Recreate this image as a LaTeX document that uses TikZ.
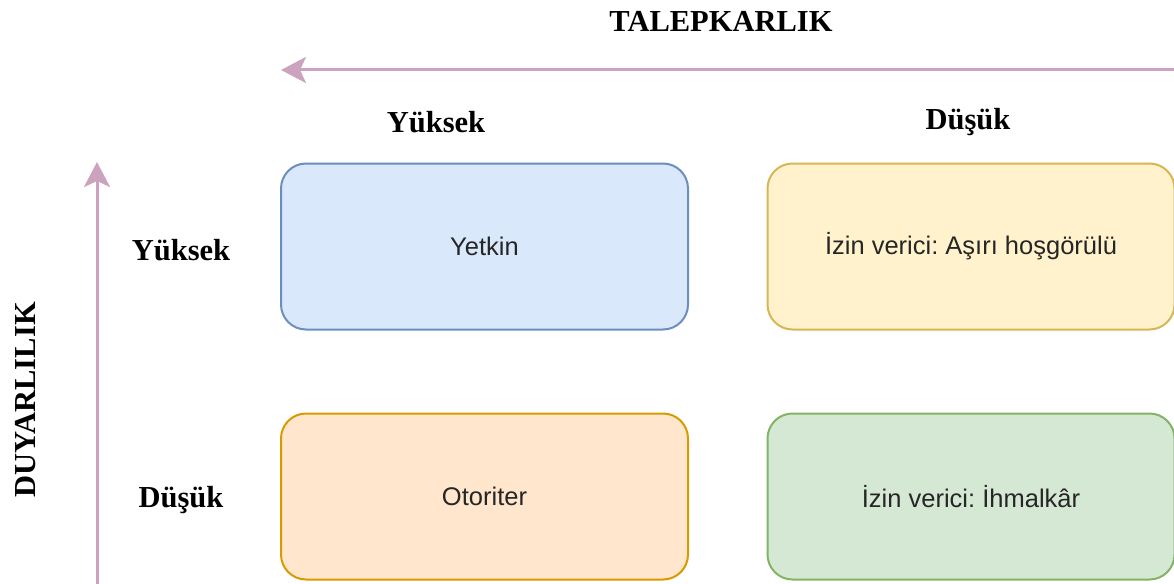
\documentclass[tikz,border=0pt]{standalone}
\usepackage{fontspec}
\setmainfont{Liberation Serif}
\setsansfont{Liberation Sans}
\usetikzlibrary{arrows.meta}
\frenchspacing
\definecolor{axiscol}{HTML}{CDA2BE}
\definecolor{bluefill}{HTML}{DAE8FC}\definecolor{bluedraw}{HTML}{6C8EBF}
\definecolor{yelfill}{HTML}{FFF2CC}\definecolor{yeldraw}{HTML}{D6B656}
\definecolor{orafill}{HTML}{FFE6CC}\definecolor{oradraw}{HTML}{D79B00}
\definecolor{grefill}{HTML}{D5E8D4}\definecolor{gredraw}{HTML}{82B366}
\tikzset{
  cell/.style={draw, line width=2pt, rounded corners=25pt, minimum width=407pt,
    minimum height=166pt, inner sep=0pt, font=\sffamily\fontsize{25.5}{29}\selectfont,
    text=black!85},
  axislabel/.style={font=\bfseries\fontsize{30.5}{34}\selectfont, inner sep=0pt},
  axisarrow/.style={draw=axiscol, line width=3pt,
    -{Stealth[length=25pt,width=26pt,inset=6pt]}},
}
\begin{document}
\begin{tikzpicture}[x=1pt,y=-1pt]
\useasboundingbox (0,0) rectangle (1174,583);
% axes
\coordinate (hstart) at (1176,70);
\coordinate (hend) at (281,70);
\coordinate (vstart) at (97,585);
\coordinate (vend) at (97,162);
\draw[axisarrow] (hstart) -- (hend);
\draw[axisarrow] (vstart) -- (vend);
% axis titles and levels
\node[axislabel] (talep) at (721,21) {TALEPKARLIK};
\node[axislabel, rotate=90] (duyar) at (26,400) {DUYARLILIK};
\node[axislabel] (colhigh) at (436,122) {Yüksek};
\node[axislabel] (collow) at (968,122) {Düşük};
\node[axislabel] (rowhigh) at (181,250) {Yüksek};
\node[axislabel] (rowlow) at (181,500) {Düşük};
% the four styles
\node[cell, fill=bluefill, draw=bluedraw] (yetkin) at (484.5,246.5) {Yetkin};
\node[cell, fill=yelfill, draw=yeldraw] (asiri) at (971,246.5) {İzin verici: Aşırı hoşgörülü};
\node[cell, fill=orafill, draw=oradraw] (otoriter) at (484.5,496.5) {Otoriter};
\node[cell, fill=grefill, draw=gredraw] (ihmal) at (971,496.5) {İzin verici: İhmalkâr};
\end{tikzpicture}
\end{document}
